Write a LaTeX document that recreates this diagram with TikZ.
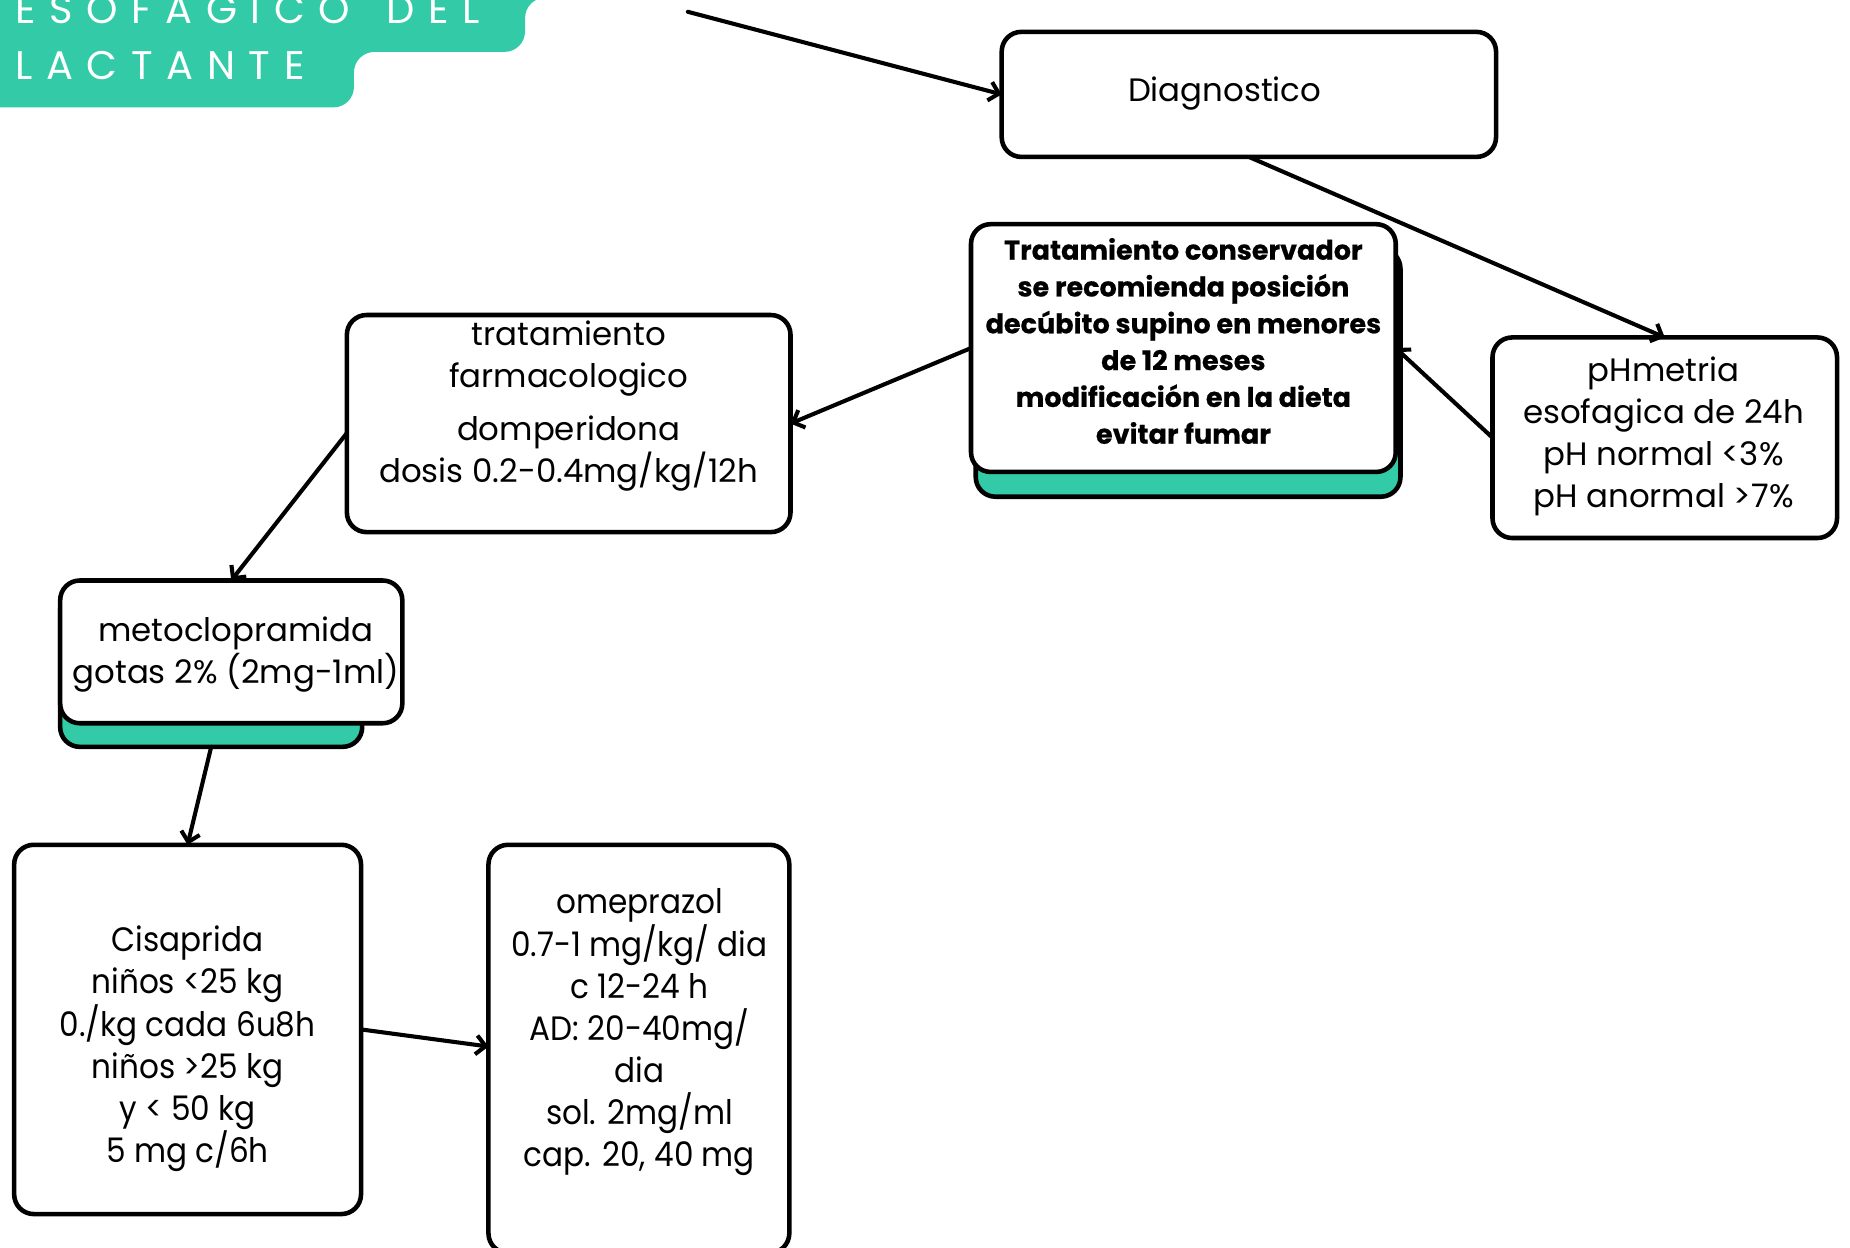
\documentclass[tikz,border=0pt]{standalone}
\usepackage{fontspec}
\setmainfont{Poppins}
\newfontfamily\titlefont[LetterSpace=34]{Poppins}
\newfontfamily\narrowfont[FakeStretch=0.92]{Poppins}
\newfontfamily\heavyfont[BoldFeatures={FakeBold=0.5}]{Poppins}
\usetikzlibrary{arrows.meta}
\definecolor{mint}{RGB}{51,202,167}

\tikzset{
  box/.style 2 args={draw, line width=2.9pt, rounded corners=12.5pt, fill=white,
    minimum width=#1*0.75pt, minimum height=#2*0.75pt, inner sep=0pt, outer sep=0pt},
  shadowbox/.style 2 args={box={#1}{#2}, fill=mint},
  body/.style={font=\fontsize{20.6}{26.6}\selectfont, align=center, inner sep=0pt},
  narrowbody/.style={font=\narrowfont\fontsize{21.5}{26.8}\selectfont, align=center, inner sep=0pt},
  boldbody/.style={font=\heavyfont\fontsize{17.2}{23.4}\selectfont\bfseries, align=center, inner sep=0pt},
  titletext/.style={font=\titlefont\fontsize{25.4}{30}\selectfont, text=white, anchor=base west, inner sep=0pt},
  arr/.style={line width=2.6pt, -{Straight Barb[length=6pt,width=12pt]}}
}

\begin{document}
\begin{tikzpicture}[x=0.75pt, y=-0.75pt, line join=round, line cap=round]
\useasboundingbox (0,0) rectangle (1568,1057);

% title banner
\fill[mint, rounded corners=13pt] (-30,-40) -- (495,-40) -- (495,-2) -- (445,-2) -- (445,44)
  -- (300,44) -- (300,91) -- (-30,91) -- cycle;
\node[titletext] (title1) at (13,20) {ESOFAGICO\hspace{0.3em} DEL};
\node[titletext] (title2) at (13,67) {LACTANTE};

% boxes
\node[box={419}{106}] (diag) at (1058.5,80) {};
\node[body] (diagtxt) at (1038,79) {Diagnostico};

\node[shadowbox={360}{210}] (tratsh) at (1007,316) {};
\node[box={360}{210}] (trat) at (1003,295) {};
\node[boldbody] (trattxt) at (1003,289) {Tratamiento conservador\\se recomienda posición\\decúbito supino en menores\\de 12 meses\\modificación en la dieta\\evitar fumar};

\node[box={292}{170}] (ph) at (1411,371) {};
\node[body] (phtxt) at (1410,370) {pHmetria\\esofagica de 24h\\pH normal <3\%\\pH anormal >7\%};

\node[box={376}{184}] (farm) at (482,359) {};
\node[body] (farmtxt) at (482,344) {tratamiento\\farmacologico\\[7pt]domperidona\\dosis 0.2-0.4mg/kg/12h};

\node[shadowbox={256}{133}] (metosh) at (179,566.5) {};
\node[box={290}{121}] (meto) at (196,552.5) {};
\node[body] (metotxt) at (200,555) {metoclopramida\\gotas 2\% (2mg-1ml)};

\node[box={294}{313}] (cis) at (159,872.5) {};
\node[narrowbody] (cistxt) at (159,889) {Cisaprida\\niños <25 kg\\0./kg cada 6u8h\\niños >25 kg\\y < 50 kg\\5 mg c/6h};

\node[box={255}{346}] (ome) at (541.5,889) {};
\node[narrowbody] (ometxt) at (542,875) {omeprazol\\0.7-1 mg/kg/ dia\\c 12-24 h\\AD: 20-40mg/\\dia\\sol. 2mg/ml\\cap. 20, 40 mg};

% connectors
\coordinate (from) at (583,10);
\draw[arr] (from) -- (diag.west);
\draw[arr] (diag.south) -- (ph.north);
\draw[arr] (ph.west) -- (trat.east);
\draw[arr] (trat.west) -- (farm.east);
\draw[arr] ([yshift=-6pt]farm.west) -- (meto.north);
\draw[arr] (metosh.south) -- (cis.north);
\draw[arr] (cis.east) -- ([yshift=1.5pt]ome.west);
\end{tikzpicture}
\end{document}
